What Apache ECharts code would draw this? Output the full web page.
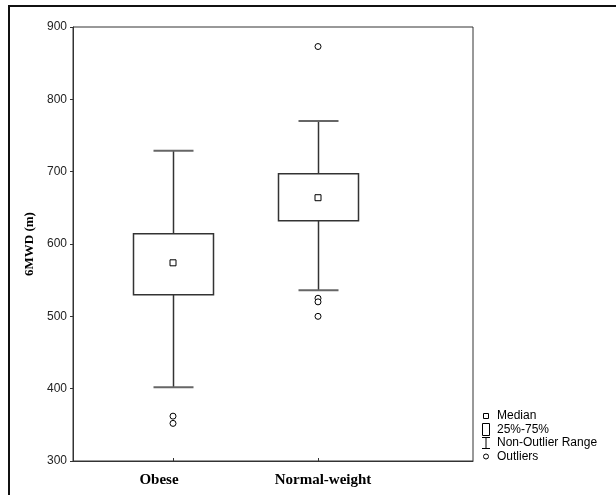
<!DOCTYPE html>
<html>
<head>
<meta charset="utf-8">
<script src="https://cdn.jsdelivr.net/npm/echarts@6/dist/echarts.min.js"></script>
<style>
html, body { margin: 0; padding: 0; background: #fff; }
#chart { width: 616px; height: 495px; }
</style>
</head>
<body>
<div id="chart"></div>
<script>
// groups and their box statistics (6MWD, metres)
var categories = ['Obese', 'Normal-weight'];
var whiskerLow = [402, 536];
var q1 = [530, 632];
var medians = [574, 664];
var q3 = [614, 697];
var whiskerHigh = [729, 770];
var outliers = [[362, 352], [873, 525, 520, 500]];

var yTicks = [300, 400, 500, 600, 700, 800, 900];
var legendItems = ['Median', '25%-75%', 'Non-Outlier Range', 'Outliers'];

var chart = echarts.init(document.getElementById('chart'), null, { renderer: 'canvas' });

var boxData = [],
	medianData = [],
	outlierData = [],
	i, j;

for (i = 0; i < categories.length; i++)
{
	boxData.push([i + 1, whiskerLow[i], q1[i], medians[i], q3[i], whiskerHigh[i]]);
	medianData.push([i + 1, medians[i]]);
	for (j = 0; j < outliers[i].length; j++)
		outlierData.push([i + 1, outliers[i][j]]);
}

function renderBox(params, api) {
	var x = api.value(0),
		lo = api.coord([x, api.value(1)]),
		b1 = api.coord([x, api.value(2)]),
		b3 = api.coord([x, api.value(4)]),
		hi = api.coord([x, api.value(5)]),
		cx = Math.round(lo[0]) + 0.5,
		hw = 40,
		cw = 20,
		stem = { stroke: '#333', lineWidth: 1.5 },
		cap = { stroke: '#666', lineWidth: 2 };

	return {
		type: 'group',
		children: [
			{ type: 'line', shape: { x1: cx, y1: hi[1], x2: cx, y2: b3[1] }, style: stem },
			{ type: 'line', shape: { x1: cx, y1: b1[1], x2: cx, y2: lo[1] }, style: stem },
			{ type: 'line', shape: { x1: cx - cw, y1: hi[1], x2: cx + cw, y2: hi[1] }, style: cap },
			{ type: 'line', shape: { x1: cx - cw, y1: lo[1], x2: cx + cw, y2: lo[1] }, style: cap },
			{
				type: 'rect',
				shape: { x: cx - hw, y: b3[1], width: 2 * hw, height: b1[1] - b3[1] },
				style: { fill: '#fff', stroke: '#333', lineWidth: 1.5 }
			}
		]
	};
}

// legend drawn by hand, STATISTICA style
var legendY = [416, 429.5, 443, 456.5],
	legendText = { fill: '#000', font: '12px "Liberation Sans", Arial, sans-serif', verticalAlign: 'middle' },
	legendLine = { stroke: '#000', lineWidth: 1, fill: 'none' },
	graphics = [
		{
			type: 'rect',
			shape: { x: 9, y: 6, width: 700, height: 600 },
			style: { fill: 'none', stroke: '#111', lineWidth: 2 },
			silent: true
		},
		{ type: 'rect', shape: { x: 483.5, y: legendY[0] - 2.5, width: 5, height: 5 }, style: legendLine },
		{ type: 'rect', shape: { x: 482.5, y: legendY[1] - 6, width: 7, height: 12 }, style: legendLine },
		{ type: 'line', shape: { x1: 482, y1: legendY[2] - 5.5, x2: 490, y2: legendY[2] - 5.5 }, style: legendLine },
		{ type: 'line', shape: { x1: 486, y1: legendY[2] - 5.5, x2: 486, y2: legendY[2] + 5.5 }, style: legendLine },
		{ type: 'line', shape: { x1: 482, y1: legendY[2] + 5.5, x2: 490, y2: legendY[2] + 5.5 }, style: legendLine },
		{ type: 'circle', shape: { cx: 486, cy: legendY[3], r: 2.5 }, style: legendLine }
	];

for (i = 0; i < legendItems.length; i++)
{
	graphics.push({
		type: 'text',
		x: 497,
		y: legendY[i],
		style: Object.assign({ text: legendItems[i] }, legendText)
	});
}

var option = {
	animation: false,
	grid: {
		left: 73,
		top: 27,
		right: 143,
		bottom: 34,
		show: true,
		borderColor: '#333',
		borderWidth: 1
	},
	xAxis: {
		type: 'value',
		min: 1 - 100 / 145,
		max: 2 + 155 / 145,
		splitLine: { show: false },
		axisLine: { show: true, lineStyle: { color: '#333', width: 1 } },
		axisTick: {
			show: true,
			inside: true,
			length: 3,
			customValues: [1, 2],
			lineStyle: { color: '#333' }
		},
		axisLabel: {
			// the original puts the names a little off their ticks
			customValues: [1 - 14 / 145, 2 + 5 / 145],
			margin: 12,
			color: '#000',
			fontFamily: '"Liberation Serif", "Times New Roman", serif',
			fontWeight: 'bold',
			fontSize: 15,
			formatter: function(v, idx) {
				return v < 1.5 ? categories[0] : categories[1];
			}
		}
	},
	yAxis: {
		type: 'value',
		min: 300,
		max: 900,
		interval: 100,
		name: '6MWD (m)',
		nameLocation: 'middle',
		nameGap: 29,
		nameTextStyle: {
			color: '#000',
			fontFamily: '"Liberation Serif", "Times New Roman", serif',
			fontWeight: 'bold',
			fontSize: 13
		},
		splitLine: { show: false },
		axisLine: { show: true, lineStyle: { color: '#333', width: 1 } },
		axisTick: { show: true, length: 3, lineStyle: { color: '#333' } },
		axisLabel: {
			margin: 6,
			color: '#222',
			fontFamily: '"Liberation Sans", Arial, sans-serif',
			fontSize: 12
		}
	},
	series: [
		{
			type: 'custom',
			name: 'box',
			renderItem: renderBox,
			encode: { x: 0, y: [1, 2, 3, 4, 5] },
			data: boxData,
			z: 2
		},
		{
			type: 'scatter',
			name: 'Median',
			symbol: 'rect',
			symbolSize: 6,
			itemStyle: { color: '#fff', borderColor: '#000', borderWidth: 1, opacity: 1 },
			data: medianData,
			z: 3
		},
		{
			type: 'scatter',
			name: 'Outliers',
			symbol: 'circle',
			symbolSize: 6,
			itemStyle: { color: '#fff', borderColor: '#000', borderWidth: 1, opacity: 1 },
			data: outlierData,
			z: 3
		}
	],
	graphic: graphics
};

chart.setOption(option);
</script>
</body>
</html>
